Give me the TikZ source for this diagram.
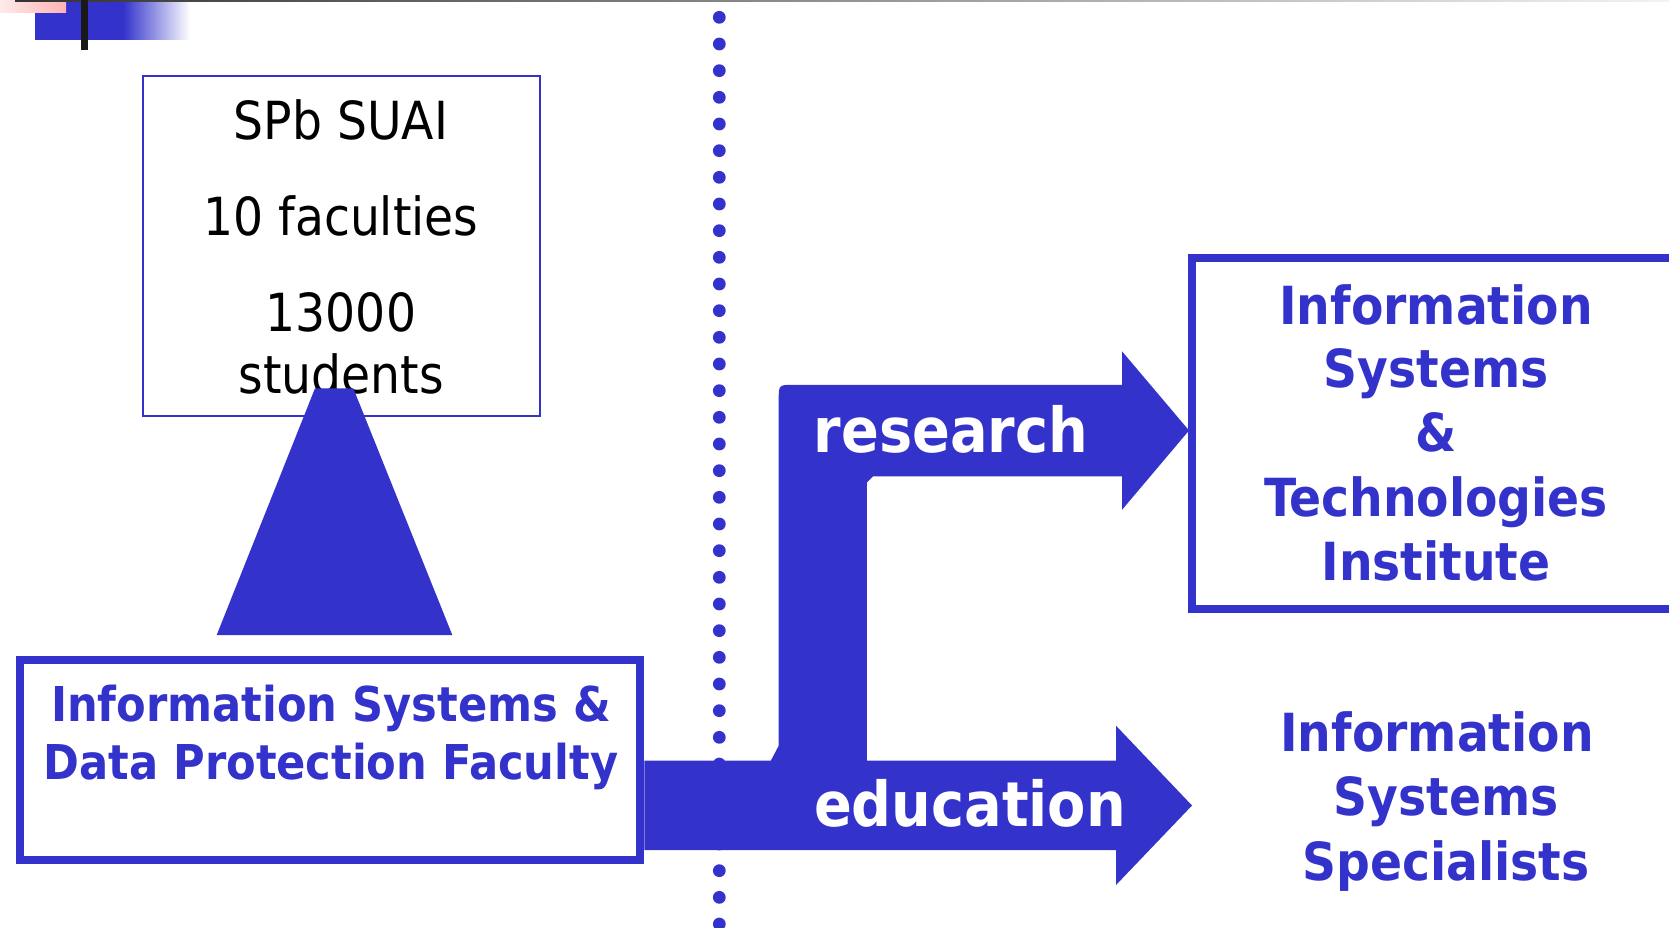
\documentclass[tikz,border=0pt]{standalone}
\usepackage{fontspec}
\setmainfont{DejaVu Sans Condensed}
\usetikzlibrary{calc}
\definecolor{suaiblue}{RGB}{51,51,204}

\tikzset{
  thinbox/.style={draw=suaiblue, line width=2pt, inner sep=0pt},
  thickbox/.style={draw=suaiblue, line width=8pt, inner sep=0pt},
  plaintext/.style={anchor=base, inner sep=0pt, text=black, font=\fontsize{52.5}{60}\selectfont},
  bluetext/.style={anchor=base, inner sep=0pt, text=suaiblue, font=\fontsize{52.5}{64}\selectfont\bfseries},
  factext/.style={bluetext, font=\fontsize{48}{57}\selectfont\bfseries},
  arrowtext/.style={anchor=base, inner sep=0pt, text=white, font=\fontsize{62}{70}\selectfont\bfseries}
}

\begin{document}
\begin{tikzpicture}[x=1pt, y=-1pt]
        \useasboundingbox (0,0) rectangle (1669,928);

        % header marks
        \fill[suaiblue] (35,1) rectangle (123,40);
        \shade[left color=suaiblue, right color=white] (123,1) rectangle (190,40);
        \shade[left color=red!8, right color=red!30] (0,0) rectangle (66,13);
        \shade[left color=black!80, right color=black!5] (15,0) rectangle (1669,1.5);
        \fill[black!90] (81,0) rectangle (88,50);

        % dotted divider
        \foreach \k in {0,...,34}
            \fill[suaiblue] (719.3,{17.33+26.667*\k}) circle (6.4pt);

        % university box
        \node[thinbox, minimum width=397pt, minimum height=339.7pt] (suai) at (341.2,245.85) {};
        \foreach \t/\y [count=\i] in {SPb SUAI/140, 10 faculties/235, 13000/331.7, students/393.3}
            \node[plaintext] (suai\i) at (341,\y) {\t};

        \fill[suaiblue] (315,388.3) -- (353.3,388.3) -- (452.3,635) -- (216.7,635) -- cycle;

        % faculty box
        \node[thickbox, minimum width=620.4pt, minimum height=199.7pt] (fac) at (330.2,759.85) {};
        \node[factext] (fac1) at (331,721.7) {Information Systems \&};
        \node[factext] (fac2) at (331,779) {Data Protection Faculty};

        % institute box
        \node[thickbox, minimum width=508pt, minimum height=351.5pt] (ist) at (1446,433.25) {};
        \foreach \t/\y [count=\i] in {Information/324, Systems/387.3, \&/451.7, Technologies/516, Institute/580}
            \node[bluetext] (ist\i) at (1436,\y) {\t};

        % specialists
        \node[bluetext] (spec1) at (1437,751.7) {Information};
        \node[bluetext] (spec2) at (1446,815.7) {Systems};
        \node[bluetext] (spec3) at (1446,880) {Specialists};

        % branching arrows
        \coordinate (edutop) at (0,760.7);
        \coordinate (edubot) at (0,850);
        \fill[suaiblue] (fac.east |- edutop) -- (770.8,760.7) -- (778.7,745.7) -- (778.7,400)
            .. controls (778.7,384.8) .. (793.9,384.8) -- (1122,384.8) -- (1122,351.3)
            -- (1189,430.5) -- (1122,509.8) -- (1122,476.4) -- (873,476.4) -- (866.9,482.5)
            -- (866.9,760.7) -- (1116,760.7) -- (1116,725.7) -- (1192,805.5) -- (1116,885)
            -- (1116,850) -- (fac.east |- edubot) -- cycle;
        \node[arrowtext] (res) at (951,452.3) {research};
        \node[arrowtext] (edu) at (970,826.6) {education};
\end{tikzpicture}
\end{document}
